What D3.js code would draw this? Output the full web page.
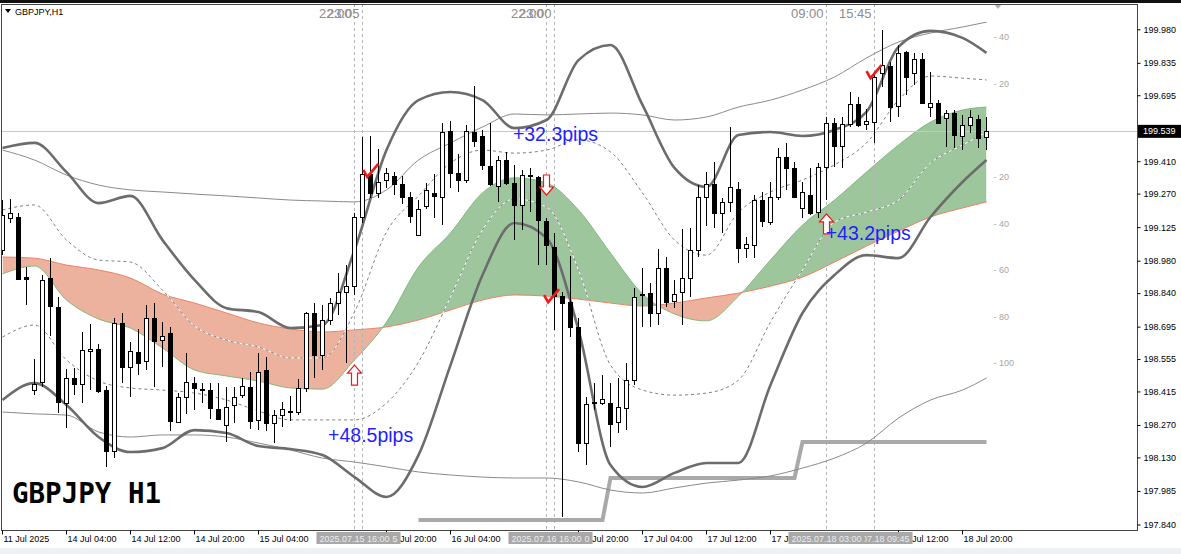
<!DOCTYPE html>
<html><head><meta charset="utf-8">
<script src="https://cdn.jsdelivr.net/npm/d3@7/dist/d3.min.js"></script>
<style>html,body{margin:0;padding:0;background:#fff;overflow:hidden;} svg{display:block;}</style>
</head><body>
<svg id="chart" width="1181" height="554"></svg>
<script>
// ---------------- DATA ----------------
const symbolTitle = "GBPJPY,H1";
const bigLabel = "GBPJPY H1";
const currentPrice = 199.539;

const opens = [
199.026,199.165,199.169,198.910,198.421,198.455,198.905,198.780,198.365,198.473,
198.447,198.590,198.598,198.421,198.158,198.711,198.521,198.585,198.547,198.732,
198.637,198.668,198.283,198.391,198.451,198.425,198.421,198.339,198.270,198.356,
198.399,198.434,198.292,198.508,198.279,198.313,198.326,198.326,198.429,198.754,
198.572,198.724,198.797,198.845,198.871,199.169,199.355,199.273,199.329,199.346,
199.312,199.256,199.091,199.216,199.273,199.256,199.540,199.359,199.329,199.536,
199.519,199.389,199.303,199.415,199.316,199.220,199.350,199.342,199.152,199.039,
198.827,198.801,198.694,198.192,198.365,198.365,198.365,198.283,198.343,198.464,
198.832,198.840,198.754,198.948,198.806,198.845,198.905,199.026,199.256,199.312,
199.186,199.234,199.290,199.035,199.048,199.242,199.147,199.256,199.428,199.381,
199.208,199.264,199.190,199.385,199.575,199.476,199.571,199.657,199.571,199.580,
199.791,199.822,199.648,199.882,199.791,199.852,199.644,199.662,199.597,199.618,
199.519,199.566,199.593,199.515];
const highs = [
199.242,199.247,199.186,198.953,198.555,198.918,198.991,198.823,198.512,198.516,
198.672,198.707,198.620,198.438,198.732,198.754,198.628,198.685,198.788,198.797,
198.715,198.694,198.408,198.581,198.478,198.451,198.451,198.451,198.434,198.434,
198.473,198.499,198.581,198.564,198.335,198.369,198.395,198.469,198.758,198.797,
198.788,198.818,198.927,198.961,199.186,199.515,199.519,199.463,199.381,199.363,
199.346,199.277,199.242,199.316,199.355,199.575,199.584,199.441,199.566,199.735,
199.545,199.575,199.432,199.450,199.393,199.372,199.381,199.346,199.165,199.100,
198.845,199.000,198.732,198.391,198.451,198.486,198.451,198.473,198.538,198.862,
198.948,198.884,199.030,198.996,198.897,199.117,199.121,199.307,199.363,199.407,
199.251,199.558,199.320,199.082,199.264,199.277,199.320,199.467,199.489,199.407,
199.320,199.381,199.402,199.601,199.597,199.601,199.709,199.688,199.636,199.791,
199.977,199.839,199.912,199.887,199.878,199.878,199.796,199.674,199.631,199.631,
199.610,199.631,199.610,199.601];
const lows = [
199.004,199.143,198.897,198.788,198.399,198.434,198.655,198.322,198.257,198.399,
198.365,198.421,198.408,198.089,198.127,198.451,198.391,198.486,198.508,198.434,
198.521,198.244,198.279,198.318,198.335,198.365,198.296,198.292,198.196,198.279,
198.386,198.253,198.248,198.244,198.192,198.262,198.288,198.313,198.412,198.473,
198.508,198.702,198.745,198.538,198.832,199.143,199.251,199.251,199.294,199.264,
199.225,199.143,199.087,199.203,199.165,199.134,199.294,199.277,199.316,199.472,
199.372,199.303,199.233,199.307,199.069,199.113,199.190,198.961,198.961,198.681,
197.872,198.650,198.153,198.097,198.335,198.356,198.175,198.235,198.248,198.443,
198.694,198.694,198.702,198.780,198.776,198.702,198.823,198.996,199.130,199.121,
199.100,199.190,198.970,198.991,198.991,199.126,199.134,199.242,199.286,199.251,
199.165,199.177,199.165,199.242,199.385,199.381,199.558,199.558,199.545,199.489,
199.731,199.580,199.601,199.696,199.739,199.657,199.601,199.571,199.472,199.467,
199.458,199.532,199.467,199.458];
const closes = [
199.177,199.186,198.901,198.901,198.447,198.897,198.784,198.369,198.473,198.447,
198.594,198.598,198.417,198.158,198.711,198.521,198.590,198.538,198.732,198.633,
198.655,198.288,198.391,198.455,198.429,198.421,198.343,198.296,198.348,198.391,
198.438,198.288,198.499,198.279,198.313,198.339,198.330,198.429,198.754,198.572,
198.724,198.797,198.845,198.871,199.169,199.355,199.273,199.320,199.359,199.312,
199.256,199.173,199.203,199.286,199.260,199.536,199.359,199.329,199.540,199.497,
199.393,199.312,199.415,199.316,199.220,199.350,199.346,199.156,199.047,198.827,
198.797,198.694,198.192,198.361,198.369,198.382,198.275,198.348,198.464,198.823,
198.836,198.754,198.948,198.801,198.836,198.905,199.026,199.256,199.312,199.186,
199.234,199.299,199.035,199.052,199.242,199.152,199.256,199.428,199.381,199.256,
199.277,199.186,199.385,199.575,199.476,199.571,199.657,199.566,199.584,199.774,
199.826,199.644,199.878,199.774,199.852,199.662,199.662,199.575,199.618,199.523,
199.566,199.601,199.510,199.539];

// indicator lines sampled every 4 bars
const lineIdx = [0,4,8,12,16,20,24,28,32,36,40,44,48,52,56,60,64,68,72,76,80,84,88,92,96,100,104,108,112,116,120,123];
const bbThickUpper = [199.467,199.489,199.363,199.229,199.260,199.069,198.897,198.775,198.758,198.689,198.702,199.026,199.458,199.674,199.709,199.674,199.553,199.588,199.847,199.912,199.653,199.381,199.299,199.523,199.536,199.519,199.545,199.623,199.904,199.973,199.943,199.878];
const bbThickLower = [198.378,198.451,198.356,198.218,198.153,198.170,198.248,198.235,198.179,198.166,198.140,198.045,197.959,198.140,198.529,198.918,199.143,199.078,198.681,198.097,198.002,198.063,198.106,198.106,198.443,198.754,198.918,199.004,198.991,199.169,199.320,199.415];
const bbDashUpper = [199.199,199.221,199.069,198.983,198.974,198.853,198.698,198.637,198.607,198.560,198.560,198.758,199.104,199.260,199.402,199.458,199.445,199.458,199.502,199.450,199.273,199.069,199.004,199.190,199.277,199.329,199.394,199.489,199.674,199.778,199.769,199.761];
const bbDashLower = [198.650,198.702,198.551,198.460,198.430,198.421,198.408,198.378,198.330,198.292,198.292,198.292,198.365,198.542,198.823,199.113,199.247,199.212,198.940,198.529,198.421,198.399,198.408,198.464,198.715,198.940,199.147,199.190,199.242,199.402,199.480,199.536];
const bbThinUpper = [199.458,199.415,199.350,199.307,199.286,199.277,199.268,199.260,199.251,199.242,199.238,199.234,199.286,199.415,199.489,199.558,199.614,199.610,199.614,199.618,199.610,199.588,199.601,199.644,199.674,199.718,199.774,199.856,199.925,199.964,199.990,200.011];
const bbThinLower = [198.326,198.318,198.313,198.240,198.218,198.227,198.227,198.218,198.192,198.162,198.127,198.110,198.089,198.067,198.054,198.045,198.041,198.041,198.024,197.989,197.976,197.998,198.019,198.032,198.050,198.084,198.127,198.192,198.300,198.378,198.421,198.473];
const cloudA = [198.923,198.957,198.810,198.728,198.689,198.603,198.508,198.482,198.460,198.430,198.425,198.551,198.715,198.953,199.100,199.273,199.338,199.316,199.199,199.013,198.836,198.750,198.720,198.827,198.983,199.134,199.242,199.363,199.480,199.579,199.631,199.644];
const cloudB = [198.996,198.991,198.961,198.940,198.905,198.836,198.797,198.754,198.711,198.685,198.672,198.681,198.694,198.724,198.767,198.810,198.832,198.827,198.814,198.797,198.784,198.797,198.819,198.840,198.870,198.909,198.974,199.043,199.108,199.169,199.208,199.234];

// grey step line
const stepIdx = [52,75,76,99,100,123];
const stepVal = [197.859,197.859,198.041,198.041,198.197,198.197];

// price axis
const priceTicks = [199.980,199.835,199.695,199.410,199.270,199.125,198.980,198.840,198.695,198.555,198.415,198.270,198.130,197.985,197.840];

// time axis (labels fully covered by the line boxes are not shown in the reference)
const timeTickIdx = [0,8,16,24,32,48,56,72,80,88,96,112,120];
const timeTickLabels = ["11 Jul 2025","14 Jul 04:00","14 Jul 12:00","14 Jul 20:00","15 Jul 04:00","15 Jul 20:00","16 Jul 04:00","16 Jul 20:00","17 Jul 04:00","17 Jul 12:00","17 Jul 20:00","18 Jul 12:00","18 Jul 20:00"];

// vertical lines
const vlineIdx = [44,45,68,69,103,109];
const vlineBoxLabels = ["2025.07.15 16:00","2025.07.15 17:05","2025.07.16 16:00","2025.07.16 17:00","2025.07.18 03:00","2025.07.18 09:45"];
const vlineTopLabels = ["22:00","23:05","22:00","23:00","09:00","15:45"];

// signals
const arrowIdx = [44,68,103];
const arrowPrice = [198.529,199.264,199.182];
const arrowDir = ["up","down","up"];
const checkIdx = [45.6,68.2,108.5];
const checkPrice = [199.342,198.801,199.769];
const pipsText = ["+48.5pips","+32.3pips","+43.2pips"];
const pipsIdx = [40.7,63.8,102.9];
const pipsPrice = [198.197,199.497,199.069];

// pip distance labels on the right
const levelText = ["40","20","20","40","60","80","100"];
const levelPrice = [199.947,199.744,199.342,199.139,198.940,198.737,198.538];

// ---------------- CHART ----------------
const svg = d3.select("#chart");
const P = {l:2, r:1137, t:4, b:530};
const x = d3.scaleLinear().domain([0,123]).range([2.5,986.5]);
const y = d3.scaleLinear().domain([197.840,199.980]).range([524.5,29.3]);
const FONT = "'Liberation Sans', Arial, sans-serif";

svg.append("rect").attr("width",1181).attr("height",554).attr("fill","#fff");
svg.append("rect").attr("x",0).attr("y",548).attr("width",1181).attr("height",6).attr("fill","#eef1f4");
svg.append("rect").attr("x",0).attr("y",0).attr("width",1181).attr("height",3).attr("fill","#111");

const defs = svg.append("defs");
defs.append("clipPath").attr("id","plotClip").append("rect")
  .attr("x",P.l).attr("y",P.t).attr("width",P.r-P.l).attr("height",P.b-P.t);

const plot = svg.append("g").attr("clip-path","url(#plotClip)");

// cloud
const cloud = lineIdx.map((d,k)=>({i:d,a:cloudA[k],b:cloudB[k]}));
const cv = d3.curveMonotoneX;
defs.append("clipPath").attr("id","aboveB").append("path")
  .attr("d", d3.area().x(d=>x(d.i)).y0(d=>y(d.b)).y1(-20).curve(cv)(cloud));
defs.append("clipPath").attr("id","belowB").append("path")
  .attr("d", d3.area().x(d=>x(d.i)).y0(d=>y(d.b)).y1(600).curve(cv)(cloud));
const cloudArea = d3.area().x(d=>x(d.i)).y0(d=>y(d.b)).y1(d=>y(d.a)).curve(cv);
plot.append("g").attr("clip-path","url(#aboveB)").append("path")
  .attr("d",cloudArea(cloud)).attr("fill","#9dc69d");
plot.append("g").attr("clip-path","url(#belowB)").append("path")
  .attr("d",cloudArea(cloud)).attr("fill","#edb29e");
const simpleLine = (vals)=> d3.line().x((d,k)=>x(lineIdx[k])).y(d=>y(d)).curve(cv)(vals);
plot.append("path").attr("d",simpleLine(cloudA)).attr("fill","none").attr("stroke","#7dba7d").attr("stroke-width",1);
plot.append("path").attr("d",simpleLine(cloudB)).attr("fill","none").attr("stroke","#f08060").attr("stroke-width",1);

// current price line
plot.append("line").attr("x1",P.l).attr("x2",P.r)
  .attr("y1",Math.round(y(currentPrice))+0.5).attr("y2",Math.round(y(currentPrice))+0.5)
  .attr("stroke","#c8c8c8").attr("stroke-width",1);

// vertical dashed lines
plot.selectAll(".vl").data(vlineIdx).enter().append("line")
  .attr("x1",d=>x(d)).attr("x2",d=>x(d)).attr("y1",P.t).attr("y2",P.b)
  .attr("stroke","#b4b4b4").attr("stroke-width",1).attr("stroke-dasharray","3,3");

// step line
plot.append("path").attr("d", d3.line().x((d,k)=>x(stepIdx[k])).y(d=>y(d))(stepVal))
  .attr("fill","none").attr("stroke","#a9a9a9").attr("stroke-width",4);

// bands
plot.append("path").attr("d",simpleLine(bbThinUpper)).attr("fill","none").attr("stroke","#8a8a8a").attr("stroke-width",1);
plot.append("path").attr("d",simpleLine(bbThinLower)).attr("fill","none").attr("stroke","#8a8a8a").attr("stroke-width",1);
[bbDashUpper,bbDashLower].forEach(v=>{
  plot.append("path").attr("d",simpleLine(v)).attr("fill","none").attr("stroke","#fff").attr("stroke-width",1);
  plot.append("path").attr("d",simpleLine(v)).attr("fill","none").attr("stroke","#808080").attr("stroke-width",1).attr("stroke-dasharray","3,3");
});
plot.append("path").attr("d",simpleLine(bbThickUpper)).attr("fill","none").attr("stroke","#6c6c6c").attr("stroke-width",2.6).attr("stroke-linejoin","round");
plot.append("path").attr("d",simpleLine(bbThickLower)).attr("fill","none").attr("stroke","#6c6c6c").attr("stroke-width",2.6).attr("stroke-linejoin","round");

// candles
const candles = opens.map((o,i)=>({i,o,h:highs[i],l:lows[i],c:closes[i]}));
const cg = plot.append("g").attr("shape-rendering","crispEdges");
cg.selectAll(".wick").data(candles).enter().append("line")
  .attr("x1",d=>x(d.i)).attr("x2",d=>x(d.i))
  .attr("y1",d=>Math.round(y(d.h))).attr("y2",d=>Math.round(y(d.l)))
  .attr("stroke","#000").attr("stroke-width",1);
cg.selectAll(".body").data(candles).enter().append("rect")
  .attr("x",d=>x(d.i)-2).attr("width",4)
  .attr("y",d=>Math.round(y(Math.max(d.o,d.c)))+0.5)
  .attr("height",d=>Math.max(1,Math.round(y(Math.min(d.o,d.c)))-Math.round(y(Math.max(d.o,d.c)))))
  .attr("fill",d=>d.c>=d.o?"#fff":"#000").attr("stroke","#000").attr("stroke-width",1);

// arrows
const upPath = "M0,0 L7,8 L3,8 L3,20 L-3,20 L-3,8 L-7,8 Z";
const dnPath = "M0,0 L7,-8 L3,-8 L3,-20 L-3,-20 L-3,-8 L-7,-8 Z";
arrowIdx.forEach((d,k)=>{
  plot.append("path").attr("d",arrowDir[k]==="up"?upPath:dnPath)
    .attr("transform",`translate(${x(d)},${y(arrowPrice[k])})`)
    .attr("fill","#fff").attr("stroke","#f01818").attr("stroke-width",1.2);
});
// check marks
checkIdx.forEach((d,k)=>{
  plot.append("path").attr("d","M-4,-7 L0,0 L11,-13")
    .attr("transform",`translate(${x(d)},${y(checkPrice[k])})`)
    .attr("fill","none").attr("stroke","#f01818").attr("stroke-width",2.6).attr("stroke-linejoin","miter");
});
// pips texts
pipsText.forEach((t,k)=>{
  plot.append("text").attr("x",x(pipsIdx[k])).attr("y",y(pipsPrice[k]))
    .attr("font-family",FONT).attr("font-size",19.5).attr("fill","#1f1fff").text(t);
});
// level labels
levelText.forEach((t,k)=>{
  plot.append("text").attr("x",x(123)+7).attr("y",y(levelPrice[k])).attr("dy","0.35em")
    .attr("font-family",FONT).attr("font-size",9).attr("fill","#a6a6a6").text("- "+t);
});
// top labels of vertical lines
vlineIdx.forEach((d,k)=>{
  plot.append("text").attr("x",x(d)-3).attr("y",18).attr("text-anchor","end")
    .attr("font-family",FONT).attr("font-size",13).attr("fill","#8c8c8c").text(vlineTopLabels[k]);
});
// shift marker
svg.append("path").attr("d","M994,4 L1002,4 L998,9 Z").attr("fill","#b0b0b0");

// big label
svg.append("text").attr("x",12).attr("y",503).attr("font-family","'DejaVu Sans Mono', monospace")
  .attr("font-weight","bold").attr("font-size",27.5).attr("fill","#000").text(bigLabel);

// title
svg.append("path").attr("d","M5,9 L11,9 L8,13 Z").attr("fill","#000");
svg.append("text").attr("x",15).attr("y",15).attr("font-family",FONT).attr("font-size",9).attr("fill","#000").text(symbolTitle);

// frame
svg.append("rect").attr("x",P.l-0.5).attr("y",P.t+0.5).attr("width",P.r-P.l+0.5).attr("height",P.b-P.t)
  .attr("fill","none").attr("stroke","#444").attr("stroke-width",1).attr("shape-rendering","crispEdges");

// right axis
const yAxis = d3.axisRight(y).tickValues(priceTicks).tickFormat(d3.format(".3f")).tickSize(3).tickPadding(3);
const ya = svg.append("g").attr("transform",`translate(${P.r+0.5},0)`).call(yAxis);
ya.select(".domain").remove();
ya.selectAll("text").attr("font-family",FONT).attr("font-size",9).attr("fill","#000");
ya.selectAll("line").attr("stroke","#000");
// current price box
const cy = y(currentPrice);
svg.append("rect").attr("x",P.r+1).attr("y",cy-6.5).attr("width",43).attr("height",13).attr("fill","#000");
svg.append("text").attr("x",P.r+6).attr("y",cy).attr("dy","0.35em").attr("font-family",FONT)
  .attr("font-size",9).attr("fill","#fff").text(currentPrice.toFixed(3));

// bottom axis
const xAxis = d3.axisBottom(x).tickValues(timeTickIdx).tickFormat((d,k)=>timeTickLabels[k]).tickSize(4).offset(0);
const xa = svg.append("g").attr("transform",`translate(0,${P.b+0.5})`).call(xAxis);
xa.select(".domain").remove();
xa.selectAll("line").attr("stroke","#000");
xa.selectAll("text").attr("text-anchor","start").attr("x",1).attr("y",5).attr("dy","0.71em")
  .attr("font-family",FONT).attr("font-size",9).attr("fill","#000");

// vertical line time boxes (drawn in reverse so the first of each pair is on top)
for (let k=vlineIdx.length-1;k>=0;k--){
  const g = svg.append("g");
  const r = g.append("rect").attr("fill","#a8a8a8");
  const t = g.append("text").attr("x",x(vlineIdx[k])).attr("y",541.5).attr("text-anchor","middle")
    .attr("font-family",FONT).attr("font-size",9).attr("fill","#ececec").text(vlineBoxLabels[k]);
  const w = t.node().getComputedTextLength()+6;
  r.attr("x",x(vlineIdx[k])-w/2).attr("y",532).attr("width",w).attr("height",12);
}
</script>
</body></html>
